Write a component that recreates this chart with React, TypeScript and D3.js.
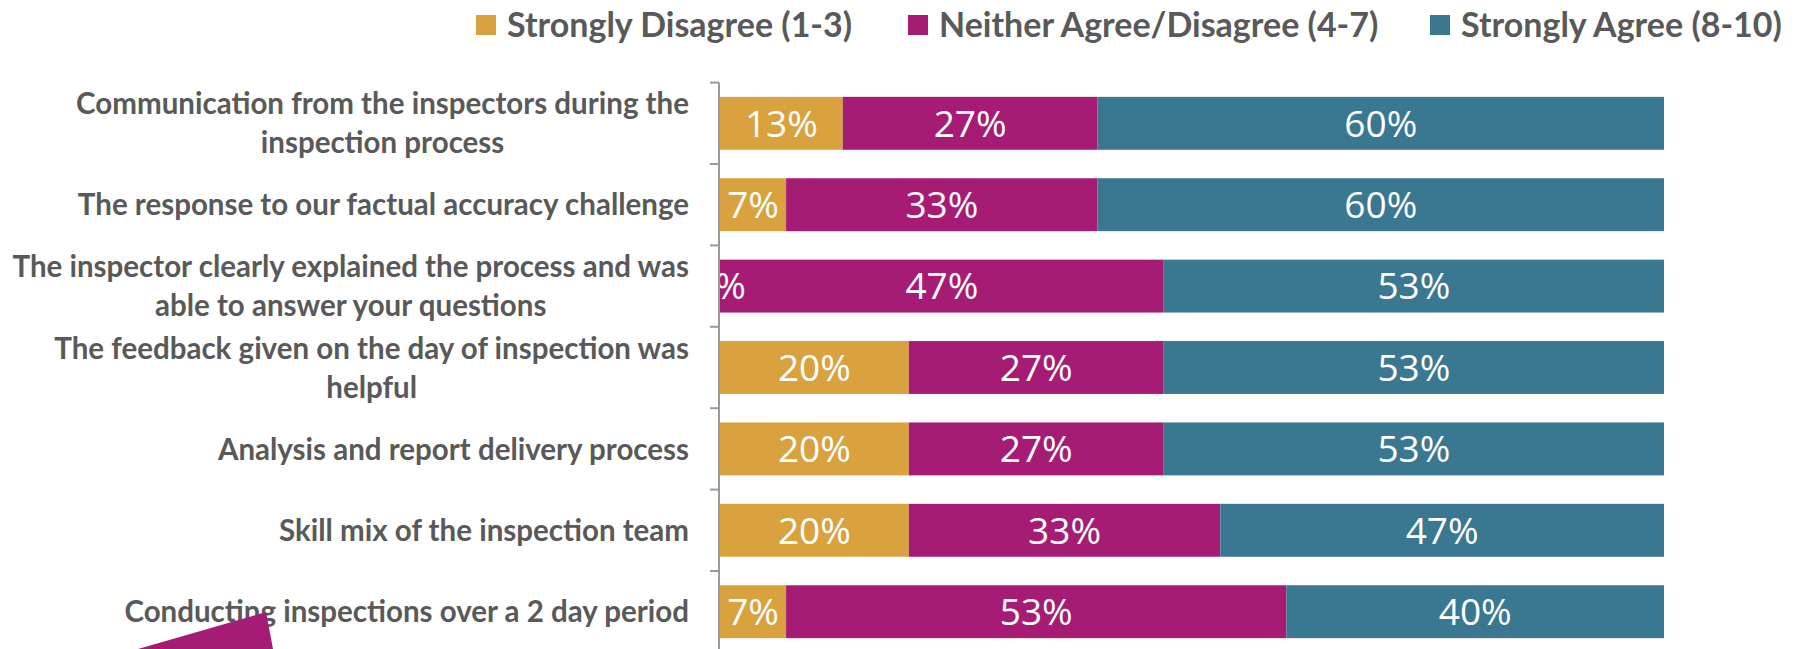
import React, { useRef, useEffect } from 'react';
import * as d3 from 'd3';

const categories = [
  'Communication from the inspectors during the\ninspection process',
  'The response to our factual accuracy challenge',
  'The inspector clearly explained the process and was\nable to answer your questions',
  'The feedback given on the day of inspection was\nhelpful',
  'Analysis and report delivery process',
  'Skill mix of the inspection team',
  'Conducting inspections over a 2 day period',
];
const seriesNames = ['Strongly Disagree (1-3)', 'Neither Agree/Disagree (4-7)', 'Strongly Agree (8-10)'];
const disagree = [13, 7, 0, 20, 20, 20, 7];
const neither = [27, 33, 47, 27, 27, 33, 53];
const agree = [60, 60, 53, 53, 53, 47, 40];
const colors = ['#D9A23E', '#A61C74', '#3A7891'];

const W = 1798;
const H = 649;

const App = () => {
  const svgRef = useRef(null);

  useEffect(() => {
    const svg = d3.select(svgRef.current);
    svg.selectAll('*').remove();

    const x = d3.scaleLinear().domain([0, 100]).range([720, 1664]);
    const y = d3.scaleBand().domain(categories).range([82.6, 652.4]).paddingInner(0.35).paddingOuter(0.175);

    const rows = categories.map((c, i) => {
      const vals = [disagree[i], neither[i], agree[i]];
      let acc = 0;
      return vals.map((v, k) => {
        const seg = { cat: c, k, x0: acc, x1: acc + v, v };
        acc += v;
        return seg;
      });
    });
    const segs = rows.flat();

    // bars
    svg.append('g')
      .selectAll('rect')
      .data(segs)
      .enter()
      .append('rect')
      .attr('x', d => x(d.x0))
      .attr('y', d => y(d.cat))
      .attr('width', d => x(d.x1) - x(d.x0))
      .attr('height', y.bandwidth())
      .attr('fill', d => colors[d.k]);

    // bar labels
    svg.append('g')
      .selectAll('text')
      .data(segs)
      .enter()
      .append('text')
      .attr('x', d => (x(d.x0) + x(d.x1)) / 2)
      .attr('y', d => y(d.cat) + y.bandwidth() / 2)
      .attr('dy', '0.36em')
      .attr('text-anchor', 'middle')
      .attr('fill', '#fff')
      .style('font-family', '"Open Sans", sans-serif')
      .style('font-size', '37px')
      .text(d => `${d.v}%`);

    // axis line + ticks
    const step = y.step();
    const axis = svg.append('g').attr('stroke', '#9a9a9a').attr('stroke-width', 2);
    axis.append('line').attr('x1', 719).attr('x2', 719).attr('y1', 82.6).attr('y2', H);
    const tickYs = categories.map(c => y(c) - (step - y.bandwidth()) / 2);
    axis.selectAll('line.tick')
      .data(tickYs)
      .enter()
      .append('line')
      .attr('class', 'tick')
      .attr('x1', 710)
      .attr('x2', 719)
      .attr('y1', d => d)
      .attr('y2', d => d);

    // category labels, multi-line ones centered as a block
    const labelG = svg.append('g')
      .style('font-family', 'Lato, sans-serif')
      .style('font-weight', 700)
      .style('font-size', '29.5px')
      .attr('fill', '#595959');
    categories.forEach(c => {
      const lines = c.split('\n');
      const cy = y(c) + y.bandwidth() / 2;
      const lh = 39;
      const t = labelG.append('text').attr('text-anchor', 'middle');
      lines.forEach((ln, j) => {
        t.append('tspan')
          .attr('y', cy + (j - (lines.length - 1) / 2) * lh)
          .attr('dy', '0.36em')
          .text(ln);
      });
      let maxW = 0;
      t.selectAll('tspan').each(function () {
        maxW = Math.max(maxW, this.getComputedTextLength());
      });
      t.selectAll('tspan').attr('x', 689 - maxW / 2);
    });

    // legend
    const legendX = [476, 908, 1430];
    const leg = svg.append('g')
      .selectAll('g')
      .data(seriesNames)
      .enter()
      .append('g')
      .attr('transform', (d, i) => `translate(${legendX[i]},25)`);
    leg.append('rect').attr('x', 0).attr('y', -10).attr('width', 20).attr('height', 20).attr('fill', (d, i) => colors[i]);
    leg.append('text')
      .attr('x', 31)
      .attr('dy', '0.36em')
      .attr('fill', '#595959')
      .style('font-family', 'Lato, sans-serif')
      .style('font-weight', 700)
      .style('font-size', '34px')
      .text(d => d);

    // cut-off callout arrow at bottom left
    svg.append('polygon')
      .attr('points', '138,649 266,612 273,649')
      .attr('fill', '#A61C74');
  }, []);

  return (
    <svg ref={svgRef} width={W} height={H} style={{ position: 'absolute', left: 0, top: 0, background: '#fff' }} />
  );
};

export default App;
